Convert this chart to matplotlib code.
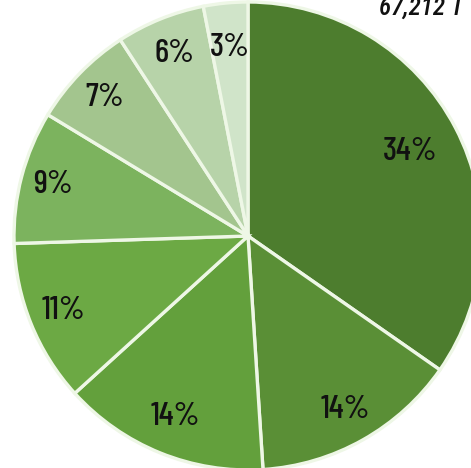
import numpy as np
import matplotlib
matplotlib.use("Agg")
import matplotlib.pyplot as plt

#----------------
# share of total, clockwise from 12 o'clock

shares = [34, 14, 14, 11, 9, 7, 6, 3]
share_labels = ['34%', '14%', '14%', '11%', '9%', '7%', '6%', '3%']
slice_colors = ['#4d7d2e', '#5a8f36', '#63a03c', '#6ca944', '#7cb35e',
                '#a3c58e', '#b7d3a9', '#d0e4c9']
total_text = '67,212 T'

#----------------

W, H = 471, 468
fig = plt.figure(figsize=(W / 100, H / 100), dpi=100)
ax = fig.add_axes([0, 0, 1, 1])

cx, cy, r = 248, H - 236, 234
wedges, _ = ax.pie(shares, colors=slice_colors, startangle=90, counterclock=False,
                   center=(cx, cy), radius=r, frame=True,
                   wedgeprops=dict(edgecolor='#eef7e6', linewidth=2.4))
ax.set_xlim(0, W)
ax.set_ylim(0, H)
ax.set_aspect('equal')
ax.axis('off')

# percent labels at the middle angle of each wedge
dists = [0.78, 0.85, 0.83, 0.85, 0.86, 0.85, 0.84, 0.81]
for w, lab, d in zip(wedges, share_labels, dists):
    mid = np.deg2rad((w.theta1 + w.theta2) / 2)
    ax.text(cx + d * r * np.cos(mid), cy + d * r * np.sin(mid), lab,
            ha='center', va='center', fontsize=24, fontweight='medium',
            family=['Barlow Condensed', 'DejaVu Sans'], color='#111111')

fig.text(379 / W, 1 - 15 / H, total_text, ha='left', va='baseline',
         fontsize=18, fontstyle='italic', fontweight='medium',
         family=['Roboto Condensed', 'DejaVu Sans'], color='#111111')

plt.savefig('out.png', dpi=100)
